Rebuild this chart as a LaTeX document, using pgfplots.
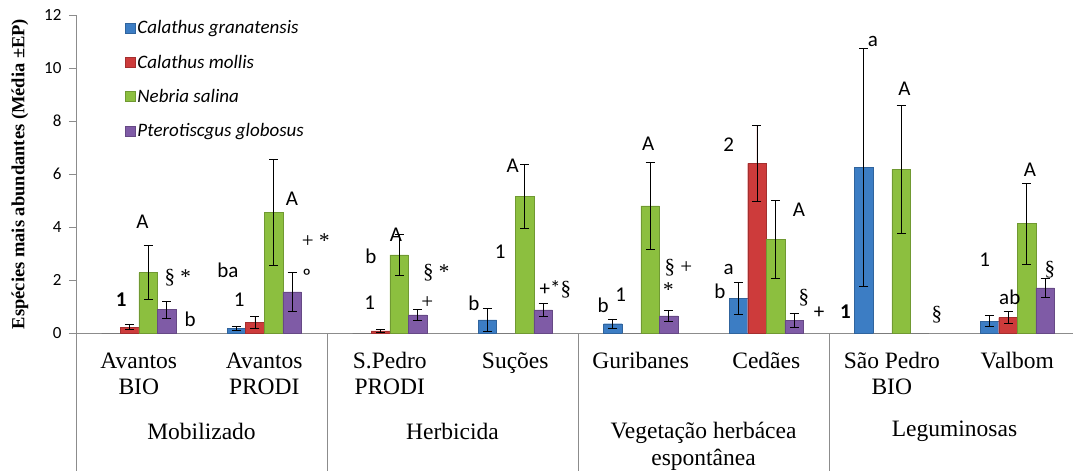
\documentclass[border=0pt]{standalone}
\usepackage{fontspec}
\setmainfont{Liberation Serif}
\newfontfamily\calfont{Carlito}
\usepackage{pgfplots}
\pgfplotsset{compat=1.18}
\definecolor{cgran}{HTML}{3C7DC4}
\definecolor{cmoll}{HTML}{CD3B3B}
\definecolor{nsal}{HTML}{8CBF3F}
\definecolor{pglob}{HTML}{7F5BA6}
\definecolor{axgray}{HTML}{8C8C8C}

% annotation helpers
\newcommand{\ann}[3]{\node[font=\calfont\fontsize{21}{21}\selectfont, inner sep=0pt] at (axis cs:#1,#2) {#3};}
\newcommand{\annb}[3]{\node[font=\calfont\bfseries\fontsize{21}{21}\selectfont, inner sep=0pt] at (axis cs:#1,#2) {#3};}
\newcommand{\anns}[3]{\node[font=\fontsize{21}{21}\selectfont, inner sep=0pt] at (axis cs:#1,#2) {#3};}
\newcommand{\sep}[1]{\draw[axgray, line width=0.8pt] (axis cs:#1,0) -- ([yshift=-138pt]axis cs:#1,0);}

% bars sit at category index +/- offset (bar width 0.148), so bar shift is 0
\pgfplotsset{
  sbar/.style={ybar, bar width=0.148, bar shift=0pt, draw=#1!80!black, line width=0.4pt, fill=#1,
    error bars/y dir=both, error bars/y explicit,
    error bars/error mark=-,
    error bars/error bar style={draw=black, line width=0.9pt},
    error bars/error mark options={rotate=90, draw=black, line width=0.9pt, mark size=4.5pt}},
  zbar/.style={ybar, bar width=0.148, bar shift=0pt, draw=black!55, line width=0.8pt, fill=none, forget plot},
}

\begin{document}
\begin{tikzpicture}
\useasboundingbox (-76pt,-138pt) rectangle (997pt,333pt);
\begin{axis}[
  name=ax, at={(0,0)}, anchor=south west,
  scale only axis, width=997pt, height=318pt,
  xmin=-0.5, xmax=7.444, ymin=0, ymax=12,
  axis lines=left, axis line style={-, draw=axgray, line width=0.8pt},
  ytick={0,2,...,12}, tick align=outside, major tick length=7pt,
  ytick style={draw=axgray, line width=0.8pt},
  yticklabel style={font=\calfont\fontsize{17}{17}\selectfont, xshift=-4pt},
  /pgf/number format/assume math mode=true,
  xtick={0,...,7}, xtick style={draw=none},
  xticklabels={{Avantos\\BIO},{Avantos\\PRODI},{S.Pedro\\PRODI},{Suções},{Guribanes},{Cedães},{São Pedro\\BIO},{Valbom}},
  xticklabel style={align=center, font=\fontsize{23.5}{26}\selectfont, anchor=north, yshift=-9pt},
  clip=false,
  legend style={at={(0.046,0.995)}, anchor=north west, draw=none, fill=none,
    font=\calfont\itshape\fontsize{19}{19}\selectfont, row sep=15.5pt,
    /tikz/every even column/.append style={column sep=7pt}},
  legend cell align=left,
  legend image code/.code={\fill[#1] (0pt,-5pt) rectangle (10pt,5pt);},
]
% Calathus granatensis
\addplot[sbar=cgran] coordinates {
  (0.778,0.17) +- (0,0.09)
  (2.778,0.50) +- (0,0.43)
  (3.778,0.35) +- (0,0.18)
  (4.778,1.30) +- (0,0.60)
  (5.778,6.25) +- (0,4.50)
  (6.778,0.45) +- (0,0.22)
};
\addlegendentry{Calathus granatensis}
% Calathus mollis
\addplot[sbar=cmoll] coordinates {
  (-0.074,0.22) +- (0,0.10)
  (0.926,0.40) +- (0,0.24)
  (1.926,0.08) +- (0,0.06)
  (4.926,6.40) +- (0,1.42)
  (6.926,0.58) +- (0,0.23)
};
\addlegendentry{Calathus mollis}
% Nebria salina
\addplot[sbar=nsal] coordinates {
  (0.074,2.28) +- (0,1.02)
  (1.074,4.55) +- (0,2.00)
  (2.074,2.95) +- (0,0.78)
  (3.074,5.15) +- (0,1.22)
  (4.074,4.80) +- (0,1.63)
  (5.074,3.53) +- (0,1.47)
  (6.074,6.17) +- (0,2.43)
  (7.074,4.13) +- (0,1.53)
};
\addlegendentry{Nebria salina}
% Pterotiscgus globosus
\addplot[sbar=pglob] coordinates {
  (0.222,0.88) +- (0,0.32)
  (1.222,1.55) +- (0,0.73)
  (2.222,0.68) +- (0,0.22)
  (3.222,0.87) +- (0,0.25)
  (4.222,0.65) +- (0,0.21)
  (5.222,0.47) +- (0,0.27)
  (7.222,1.70) +- (0,0.37)
};
\addlegendentry{Pterotiscgus globosus}
% zero-valued bars
\addplot[zbar] coordinates {(-0.222,0) (1.778,0) (2.926,0) (3.926,0) (5.926,0) (6.222,0)};

% category separators
\sep{-0.5} \sep{1.5} \sep{3.5} \sep{5.5}
\node[font=\fontsize{23.5}{26}\selectfont] at ([yshift=-98pt]axis cs:0.5,0) {Mobilizado};
\node[font=\fontsize{23.5}{26}\selectfont] at ([yshift=-98pt]axis cs:2.5,0) {Herbicida};
\node[font=\fontsize{23.5}{27}\selectfont, align=center, anchor=north] at ([yshift=-86pt]axis cs:4.5,0) {Vegetação herbácea\\espontânea};
\node[font=\fontsize{23.5}{26}\selectfont] at ([yshift=-98pt]axis cs:6.5,0) {Leguminosas};

% significance letters
\ann{0.03}{4.2}{A} \annb{-0.14}{1.25}{1} \anns{0.31}{2.1}{§ *} \ann{0.41}{0.53}{b}
\ann{0.71}{2.38}{ba} \ann{0.80}{1.25}{1} \ann{1.22}{5.07}{A} \anns{1.41}{3.48}{+ *} \ann{1.34}{2.12}{º}
\ann{1.85}{2.88}{b} \ann{1.84}{1.14}{1} \ann{2.05}{3.71}{A} \anns{2.37}{2.27}{§ *} \anns{2.30}{1.14}{+}
\ann{2.67}{1.13}{b} \ann{2.88}{3.07}{1} \ann{2.98}{6.3}{A} \node[inner sep=0pt] at (axis cs:3.32,1.63) {\calfont\fontsize{21}{21}\selectfont +*\fontsize{21}{21}\rmfamily§};
\ann{3.70}{1.06}{b} \ann{3.84}{1.44}{1} \ann{4.06}{7.15}{A} \anns{4.30}{2.46}{§ +} \anns{4.22}{1.63}{*}
\ann{4.70}{2.39}{a} \ann{4.63}{1.56}{b} \ann{4.70}{7.12}{2} \ann{5.26}{4.66}{A} \anns{5.30}{1.33}{§} \ann{5.42}{0.76}{+}
\annb{5.63}{0.8}{1} \ann{5.85}{11.0}{a} \ann{6.10}{9.2}{A} \anns{6.36}{0.68}{§}
\ann{6.74}{2.77}{1} \ann{6.94}{1.33}{ab} \ann{7.10}{6.15}{A} \anns{7.26}{2.39}{§}
\end{axis}
\node[rotate=90, font=\bfseries\fontsize{18.5}{18.5}\selectfont] at ([xshift=-56pt]ax.west) {Espécies mais abundantes (Média ±EP)};
\end{tikzpicture}
\end{document}
